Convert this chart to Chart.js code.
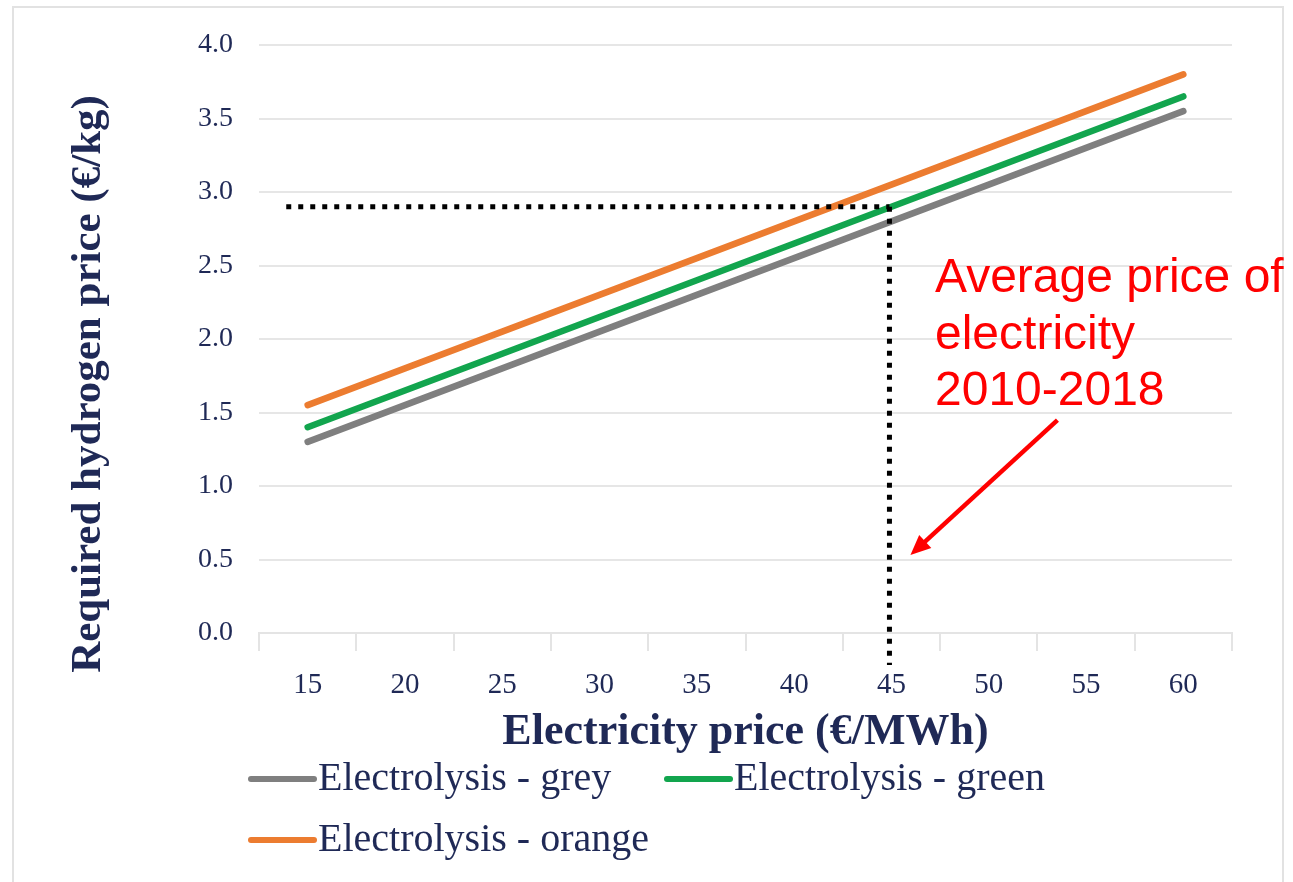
<!DOCTYPE html>
<html>
<head>
<meta charset="utf-8">
<script src="https://cdn.jsdelivr.net/npm/chart.js@4.4.0/dist/chart.umd.min.js"></script>
<style>
  html, body { margin: 0; padding: 0; background: #ffffff; }
  #wrap { position: relative; width: 1293px; height: 882px; }
  canvas { display: block; }
</style>
</head>
<body>
<div id="wrap"><canvas id="chart" width="1293" height="882"></canvas></div>
<script>
// Electricity price categories (€/MWh)
const electricityPrices = ['15', '20', '25', '30', '35', '40', '45', '50', '55', '60'];

// Required hydrogen price (€/kg) for each electrolysis route
const greyPrices   = [1.30, 1.55, 1.80, 2.05, 2.30, 2.55, 2.80, 3.05, 3.30, 3.55];
const greenPrices  = [1.40, 1.65, 1.90, 2.15, 2.40, 2.65, 2.90, 3.15, 3.40, 3.65];
const orangePrices = [1.55, 1.80, 2.05, 2.30, 2.55, 2.80, 3.05, 3.30, 3.55, 3.80];

const seriesNames  = ['Electrolysis - grey', 'Electrolysis - green', 'Electrolysis - orange'];
const seriesColors = ['#7f7f7f', '#12a54e', '#ec7c30'];

// Reference point: average electricity price 2010-2018
const averageElectricityPrice = '45';
const annotationLines = ['Average price of', 'electricity', '2010-2018'];

const yTitle = 'Required hydrogen price (€/kg)';
const xTitle = 'Electricity price (€/MWh)';

const NAVY = '#1f2956';
const SERIF = '"Liberation Serif", "DejaVu Serif", serif';

// Thin frame around the whole figure
const framePlugin = {
  id: 'frame',
  beforeDraw(chart) {
    const ctx = chart.ctx;
    ctx.save();
    ctx.fillStyle = '#ffffff';
    ctx.fillRect(0, 0, chart.width, chart.height);
    ctx.strokeStyle = '#e2e2e2';
    ctx.lineWidth = 2;
    ctx.strokeRect(13, 7, chart.width - 23, chart.height + 10);
    ctx.restore();
  }
};

// Rotated y-axis title
const yTitlePlugin = {
  id: 'yTitle',
  afterDraw(chart) {
    const ctx = chart.ctx;
    const area = chart.chartArea;
    ctx.save();
    ctx.translate(89, (area.top + area.bottom) / 2 + 45);
    ctx.rotate(-Math.PI / 2);
    ctx.font = 'bold 43px ' + SERIF;
    ctx.fillStyle = NAVY;
    ctx.textAlign = 'center';
    ctx.textBaseline = 'middle';
    ctx.fillText(yTitle, 0, 0);
    ctx.restore();
  }
};

// Dotted guide from the green curve at the average electricity price
const guidePlugin = {
  id: 'guide',
  afterDatasetsDraw(chart) {
    const ctx = chart.ctx;
    const xs = chart.scales.x, ys = chart.scales.y;
    const idx = electricityPrices.indexOf(averageElectricityPrice);
    const px = xs.getPixelForValue(idx) - 2;
    const py = ys.getPixelForValue(greenPrices[idx]);
    const x0 = xs.getPixelForValue(-0.22);
    ctx.save();
    ctx.strokeStyle = '#000000';
    ctx.lineWidth = 5;
    ctx.setLineDash([5, 7]);
    ctx.beginPath();
    ctx.moveTo(x0, py);
    ctx.lineTo(px, py);
    ctx.stroke();
    ctx.beginPath();
    ctx.moveTo(px, py);
    ctx.lineTo(px, chart.chartArea.bottom + 32);
    ctx.stroke();
    ctx.restore();
  }
};

// Red callout text and arrow
const calloutPlugin = {
  id: 'callout',
  afterDraw(chart) {
    const ctx = chart.ctx;
    const xs = chart.scales.x, ys = chart.scales.y;
    const idx = electricityPrices.indexOf(averageElectricityPrice);
    const tipX = xs.getPixelForValue(idx) + 19;
    const tipY = ys.getPixelForValue(0.53);
    const tailX = tipX + 147, tailY = tipY - 135;
    ctx.save();
    ctx.fillStyle = '#ff0000';
    ctx.font = '48px "Liberation Sans", Arial, sans-serif';
    ctx.textAlign = 'left';
    ctx.textBaseline = 'alphabetic';
    const tx = 935;
    annotationLines.forEach((t, i) => ctx.fillText(t, tx, 292 + i * 56.5));
    // arrow shaft
    const ang = Math.atan2(tipY - tailY, tipX - tailX);
    const head = 22;
    ctx.strokeStyle = '#ff0000';
    ctx.lineWidth = 4.5;
    ctx.beginPath();
    ctx.moveTo(tailX, tailY);
    ctx.lineTo(tipX - Math.cos(ang) * head * 0.8, tipY - Math.sin(ang) * head * 0.8);
    ctx.stroke();
    // arrow head
    ctx.beginPath();
    ctx.moveTo(tipX, tipY);
    ctx.lineTo(tipX - head * Math.cos(ang - 0.42), tipY - head * Math.sin(ang - 0.42));
    ctx.lineTo(tipX - head * Math.cos(ang + 0.42), tipY - head * Math.sin(ang + 0.42));
    ctx.closePath();
    ctx.fill();
    ctx.restore();
  }
};

// Two-row legend below the x-axis title
const legendPlugin = {
  id: 'customLegend',
  afterDraw(chart) {
    const ctx = chart.ctx;
    const left = chart.chartArea.left - 11;
    const slots = [
      { x: left, y: 779 },
      { x: left + 416, y: 779 },
      { x: left, y: 840 }
    ];
    ctx.save();
    ctx.font = '40px ' + SERIF;
    ctx.textBaseline = 'middle';
    ctx.textAlign = 'left';
    chart.data.datasets.forEach((ds, i) => {
      const s = slots[i];
      ctx.strokeStyle = ds.borderColor;
      ctx.lineWidth = 6;
      ctx.lineCap = 'round';
      ctx.beginPath();
      ctx.moveTo(s.x + 3, s.y);
      ctx.lineTo(s.x + 66, s.y);
      ctx.stroke();
      ctx.fillStyle = NAVY;
      ctx.fillText(ds.label, s.x + 70, s.y);
    });
    ctx.restore();
  }
};

const datasets = [greyPrices, greenPrices, orangePrices].map((values, i) => ({
  label: seriesNames[i],
  data: values,
  borderColor: seriesColors[i],
  backgroundColor: seriesColors[i],
  borderWidth: 6.5,
  borderCapStyle: 'round',
  pointRadius: 0,
  tension: 0,
  fill: false
}));

new Chart(document.getElementById('chart'), {
  type: 'line',
  data: { labels: electricityPrices, datasets },
  options: {
    responsive: false,
    animation: false,
    devicePixelRatio: 1,
    layout: { padding: { left: 0, right: 61, top: 45, bottom: 123 } },
    plugins: {
      legend: { display: false },
      tooltip: { enabled: false }
    },
    scales: {
      x: {
        type: 'category',
        offset: true,
        grid: {
          display: true,
          offset: true,
          drawOnChartArea: false,
          drawTicks: true,
          tickLength: 18,
          color: '#e4e4e4',
          lineWidth: 2
        },
        border: { display: true, color: '#e4e4e4', width: 2 },
        ticks: {
          color: NAVY,
          font: { family: SERIF, size: 29 },
          padding: 17,
          maxRotation: 0,
          autoSkip: false
        },
        title: {
          display: true,
          text: xTitle,
          color: NAVY,
          font: { family: SERIF, size: 44, weight: 'bold' },
          padding: { top: 0, bottom: 0 }
        },
        afterFit(scale) { scale.height = 126; }
      },
      y: {
        min: 0,
        max: 4,
        ticks: {
          stepSize: 0.5,
          color: NAVY,
          font: { family: SERIF, size: 28 },
          padding: 26,
          callback: v => Number(v).toFixed(1)
        },
        grid: { color: '#e6e6e6', lineWidth: 2, drawTicks: false },
        border: { display: false },
        afterFit(scale) { scale.width = 259; }
      }
    }
  },
  plugins: [framePlugin, guidePlugin, yTitlePlugin, calloutPlugin, legendPlugin]
});
</script>
</body>
</html>
